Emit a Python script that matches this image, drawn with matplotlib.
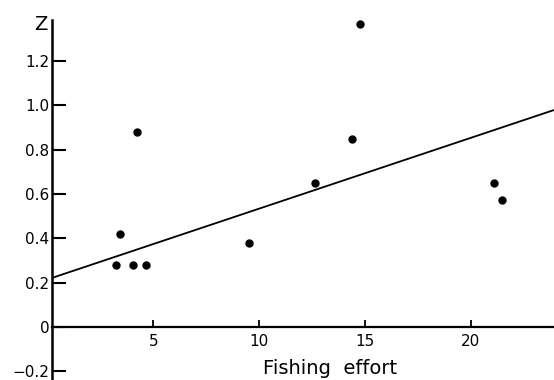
import numpy as np
import matplotlib
matplotlib.use('Agg')
from matplotlib import pyplot as plt

# Data
effort = [3.25, 4.05, 4.65, 3.45, 4.25, 9.5, 12.65, 14.4, 14.75, 21.1, 21.45]
z_vals = [0.28, 0.28, 0.28, 0.42, 0.88, 0.38, 0.65, 0.85, 1.37, 0.65, 0.575]
fit_intercept = 0.214
fit_slope = 0.032
xticks = [5, 10, 15, 20]
yticks = [-0.2, 0, 0.2, 0.4, 0.6, 0.8, 1.0, 1.2]
ytick_labels = ['\u22120.2', '0', '0.2', '0.4', '0.6', '0.8', '1.0', '1.2']

plt.rcParams['font.family'] = ['DejaVu Sans']

fig = plt.figure(figsize=(5.54, 3.8), dpi=100)
ax = fig.add_axes([52/554, 0.0, 1 - 52/554, 360/380])
ax.set_xlim(0.22, 23.92)
ax.set_ylim(-0.24, 1.386)

# regression line
xs = np.array(ax.get_xlim())
ax.plot(xs, fit_intercept + fit_slope*xs, color='black', lw=1.3, solid_capstyle='butt')
ax.plot(effort, z_vals, 'o', color='black', ms=5)

# axes styling
for s in ['top', 'right']:
    ax.spines[s].set_visible(False)
ax.spines['bottom'].set_position(('data', 0))
ax.spines['left'].set_linewidth(1.8)
ax.spines['bottom'].set_linewidth(1.6)

ax.set_xticks(xticks)
ax.set_xticklabels([str(t) for t in xticks])
ax.set_yticks(yticks)
ax.set_yticklabels(ytick_labels)
ax.tick_params(axis='y', direction='in', length=10, width=1.5, pad=-1, labelsize=11)
ax.tick_params(axis='x', direction='in', length=5, width=1.3, pad=5, labelsize=11)
for lab in ax.get_yticklabels():
    lab.set_horizontalalignment('right')
    lab.set_transform(lab.get_transform() + matplotlib.transforms.ScaledTranslation(-4/100, 0, fig.dpi_scale_trans))

fig.text(41/554, 1 - 24/380, 'Z', fontsize=14, ha='center', va='center')
fig.text(330/554, 1 - 368/380, 'Fishing  effort', fontsize=14,
         ha='center', va='center')

fig.savefig('out.png', dpi=100)
